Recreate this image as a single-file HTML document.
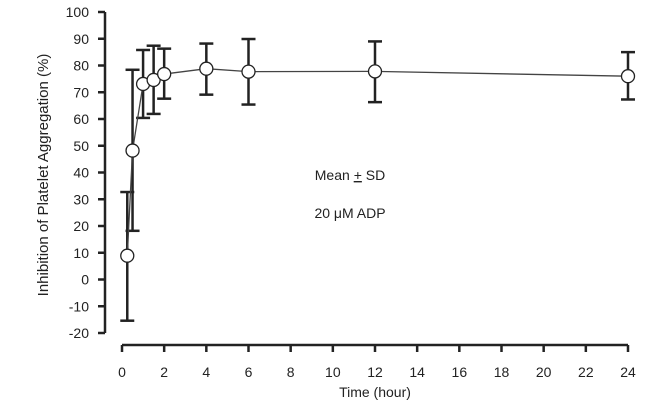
<!DOCTYPE html>
<html><head><meta charset="utf-8"><style>
body{margin:0;background:#fff}
text{font-family:"Liberation Sans",Arial,sans-serif;fill:#222}
</style></head><body>
<svg width="663" height="403" id="c">
<g id="g"></g>
<text x="350" y="180" text-anchor="middle" font-size="14">Mean <tspan text-decoration="underline">+</tspan> SD</text>
<text x="350" y="218" text-anchor="middle" font-size="14">20 μM ADP</text>
<text x="375" y="397" text-anchor="middle" font-size="14">Time (hour)</text>
<text transform="translate(48,175) rotate(-90)" text-anchor="middle" font-size="15">Inhibition of Platelet Aggregation (%)</text>
</svg>
<script>
const times=[0.25,0.5,1,1.5,2,4,6,12,24];
const means=[8.9,48.2,73.1,74.6,76.8,78.8,77.7,77.8,76];
const upper=[32.7,78.4,85.8,87.4,86.3,88.2,89.9,89,85];
const lower=[-15.4,18.2,60.4,61.9,67.6,69.1,65.4,66.3,67.3];
const xTicks=[0,2,4,6,8,10,12,14,16,18,20,22,24];
const yTicks=[-20,-10,0,10,20,30,40,50,60,70,80,90,100];
const NS="http://www.w3.org/2000/svg";
const g=document.getElementById('g');
function X(t){return 122+t*(628-122)/24;}
function Y(v){return 12+(100-v)*(333-12)/120;}
function el(tag,a){const e=document.createElementNS(NS,tag);for(const k in a)e.setAttribute(k,a[k]);g.appendChild(e);return e;}
let e=el('line',{x1:105,x2:105,y1:Y(100),y2:Y(-20),stroke:'#222','stroke-width':2.5});


e=el('line',{x1:X(0),x2:X(24),y1:345,y2:345,stroke:'#222','stroke-width':2.5});


yTicks.forEach(v=>{
 el('line',{x1:98,x2:105,y1:Y(v),y2:Y(v),stroke:'#222','stroke-width':2.5});
 const t=el('text',{x:89,y:Y(v)+5,'text-anchor':'end','font-size':14});t.textContent=v;
 
 
});
xTicks.forEach(v=>{
 el('line',{x1:X(v),x2:X(v),y1:345,y2:352,stroke:'#222','stroke-width':2.5});
 const t=el('text',{x:X(v),y:377,'text-anchor':'middle','font-size':14});t.textContent=v;
 
 
});
times.forEach((t,i)=>{
 const x=X(t);
 const b=el('g',{});
 
 
 [[x,x,Y(lower[i]),Y(upper[i])],[x-7,x+7,Y(lower[i]),Y(lower[i])],[x-7,x+7,Y(upper[i]),Y(upper[i])]].forEach(l=>{
  const ln=document.createElementNS(NS,'line');
  ln.setAttribute('x1',l[0]);ln.setAttribute('x2',l[1]);ln.setAttribute('y1',l[2]);ln.setAttribute('y2',l[3]);
  ln.setAttribute('stroke','#222');ln.setAttribute('stroke-width',2.5);b.appendChild(ln);
 });
});
const p=el('polyline',{points:times.map((t,i)=>X(t)+','+Y(means[i])).join(' '),fill:'none',stroke:'#444','stroke-width':1.3});


times.forEach((t,i)=>{
 const c=el('circle',{cx:X(t),cy:Y(means[i]),r:6.5,fill:'#fff',stroke:'#222','stroke-width':1.3});
 
 
});
</script>
</body></html>
